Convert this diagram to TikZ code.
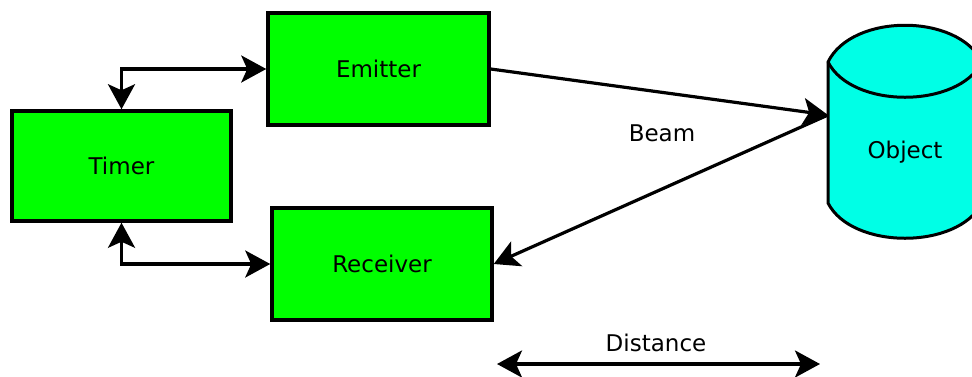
\documentclass[tikz,border=0pt]{standalone}
\usepackage{fontspec}
\setmainfont{DejaVu Sans}
\usetikzlibrary{arrows.meta}
\definecolor{boxgreen}{RGB}{0,255,0}
\definecolor{objcyan}{RGB}{0,255,230}
\tikzset{tip/.tip={Stealth[length=25pt,width=27pt,inset=6pt]}}
\begin{document}
\begin{tikzpicture}[x=1pt,y=-1pt,
  lbl/.style={font=\fontsize{23}{27}\selectfont, inner sep=0pt},
  box/.style={lbl, draw=black, line width=3.5pt, fill=boxgreen},
  conn/.style={line width=3.2pt, -tip},
  dconn/.style={line width=3.2pt, tip-tip}]
\useasboundingbox (0,0) rectangle (972,376);
\node[box, minimum width=219pt, minimum height=110pt] (timer) at (121.5,166) {Timer};
\node[box, minimum width=221pt, minimum height=112pt] (emitter) at (378.5,69) {Emitter};
\node[box, minimum width=220pt, minimum height=112pt] (receiver) at (382,264) {Receiver};
\begin{scope}
  \clip (0,0) rectangle (972,376);
  \draw[line width=3pt, fill=objcyan] (828,62) .. controls (852,13) and (958,13) .. (982,62) -- (982,203) .. controls (958,250) and (852,250) .. (828,203) -- cycle;
  \draw[line width=3pt] (828,62) .. controls (852,109) and (958,109) .. (982,62);
\end{scope}
\node[lbl] (object) at (905,152) {Object};
\coordinate (objL) at (828,115);
\node[lbl] (beam) at (662,133) {Beam};
\node[lbl] (dist) at (656,343) {Distance};
\coordinate (dl) at (497,364);
\coordinate (dr) at (820,364);
\draw[dconn] (timer.north) |- (emitter.west);
\draw[dconn] (timer.south) |- (receiver.west);
\draw[conn] (emitter.east) -- (objL);
\draw[conn] (objL) -- (receiver.east);
\draw[dconn] (dl) -- (dr);
\end{tikzpicture}
\end{document}
